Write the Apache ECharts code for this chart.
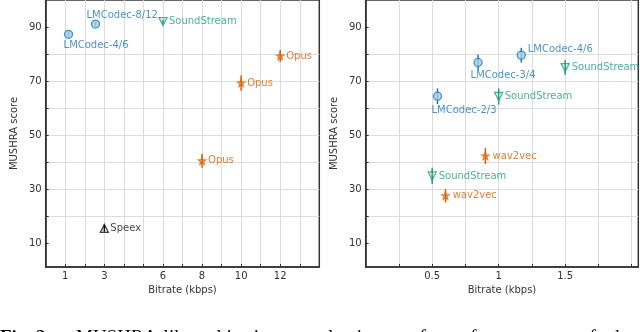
<!DOCTYPE html>
<html>
<head>
<meta charset="utf-8">
<script src="https://cdn.jsdelivr.net/npm/echarts@6/dist/echarts.min.js"></script>
<style>
html, body { margin: 0; padding: 0; background: #fff; }
#chart { width: 640px; height: 332px; }
</style>
</head>
<body>
<div id="chart"></div>
<script>
// left panel: all codecs, bitrate in kbps
const leftLabels = ['LMCodec-4/6', 'LMCodec-8/12', 'SoundStream', 'Opus', 'Opus', 'Opus', 'Speex'];
const leftCodec = ['lmcodec', 'lmcodec', 'soundstream', 'opus', 'opus', 'opus', 'speex'];
const leftBitrate = [1.17, 2.55, 6, 12, 10, 8, 3];
const leftScore = [87.3, 91.1, 92.0, 79.3, 69.3, 40.5, 15.5];
const leftErr = [1.0, 0.8, 0.8, 2.2, 2.9, 2.6, 1.3];

// right panel: low bitrate codecs
const rightLabels = ['LMCodec-2/3', 'LMCodec-3/4', 'LMCodec-4/6', 'SoundStream', 'SoundStream', 'SoundStream', 'wav2vec', 'wav2vec'];
const rightCodec = ['lmcodec', 'lmcodec', 'lmcodec', 'soundstream', 'soundstream', 'soundstream', 'wav2vec', 'wav2vec'];
const rightBitrate = [0.54, 0.845, 1.17, 1.5, 1.0, 0.5, 0.9, 0.6];
const rightScore = [64.4, 76.9, 79.6, 75.0, 64.3, 34.9, 42.3, 27.6];
const rightErr = [2.9, 2.8, 2.7, 2.7, 3.0, 3.0, 3.0, 2.5];

// tick labels
const leftXTicks = [1, 3, 6, 8, 10, 12];
const rightXTicks = [0.5, 1, 1.5];
const yTicks = [10, 30, 50, 70, 90];
const yGrid = [10, 20, 30, 40, 50, 60, 70, 80, 90];

// caption words (only the top of the line is in frame)
const captionWords = ['Fig. 2:', 'MUSHRA-like', 'subjective', 'evaluation', 'of', 'performance', 'of', 'the'];

// label placement next to each marker (dx, dy in px)
const leftLabelOffset = [[-5, 11], [-9, -9], [6, 0], [6, 0], [6, 0], [6, 0], [6, 0]];
const rightLabelOffset = [[-6, 14.5], [-7.5, 12.5], [6.5, -6], [6.5, 0.3], [6, 0.4], [6.5, 0.3], [7.2, 0], [7.2, 0]];
const captionLeft = [0, 76, 200, 302, 410, 446, 580, 610];

const FONT = 'DejaVu Sans';
const STAR = 'path://M0,-10L2.35,-3.24L9.51,-3.09L3.8,1.24L5.88,8.09L0,4L-5.88,8.09L-3.8,1.24L-9.51,-3.09L-2.35,-3.24Z';
const style = {
  lmcodec: { color: '#1f78b4', symbol: 'circle', size: 8, fill: '#a6cee3', rotate: 0 },
  soundstream: { color: '#1b9e77', symbol: 'triangle', size: 8, fill: 'rgba(0,0,0,0)', rotate: 180 },
  opus: { color: '#d95f02', symbol: STAR, size: 7, fill: 'rgba(0,0,0,0)', rotate: 0 },
  wav2vec: { color: '#d95f02', symbol: STAR, size: 7, fill: 'rgba(0,0,0,0)', rotate: 0 },
  speex: { color: '#111', symbol: 'triangle', size: 8, fill: 'rgba(0,0,0,0)', rotate: 0 }
};

function buildSeries(idx, labels, codec, xs, ys, errs, offs) {
  const out = [];
  // error bars
  out.push({
    type: 'custom',
    xAxisIndex: idx, yAxisIndex: idx,
    z: 2,
    silent: true,
    data: xs.map((x, i) => [x, ys[i] - errs[i], ys[i] + errs[i], i]),
    renderItem: function (params, api) {
      const i = api.value(3);
      const p1 = api.coord([api.value(0), api.value(1)]);
      const p2 = api.coord([api.value(0), api.value(2)]);
      return {
        type: 'line',
        shape: { x1: p1[0], y1: p1[1], x2: p2[0], y2: p2[1] },
        style: { stroke: style[codec[i]].color, lineWidth: 1.5 }
      };
    }
  });
  const groups = [...new Set(codec)];
  groups.forEach(g => {
    const s = style[g];
    const data = [];
    xs.forEach((x, i) => {
      if (codec[i] !== g) return;
      data.push({
        value: [x, ys[i]],
        name: labels[i],
        label: { offset: offs[i] }
      });
    });
    out.push({
      type: 'scatter',
      xAxisIndex: idx, yAxisIndex: idx,
      z: 3,
      symbol: s.symbol,
      symbolSize: s.size,
      symbolRotate: s.rotate,
      itemStyle: { color: s.fill, borderColor: s.color, borderWidth: 1.3 },
      label: {
        show: true,
        position: 'inside',
        align: 'left',
        verticalAlign: 'middle',
        formatter: '{b}',
        color: s.color,
        fontFamily: FONT,
        fontSize: 10
      },
      data: data
    });
  });
  return out;
}

function xAxis(idx, max, interval, ticks) {
  return {
    type: 'value', gridIndex: idx, min: 0, max: max, interval: interval,
    name: 'Bitrate (kbps)', nameLocation: 'middle', nameGap: 18,
    nameTextStyle: { fontFamily: FONT, fontSize: 10, color: '#333' },
    axisLine: { show: true, onZero: false, lineStyle: { color: '#333', width: 1.5 } },
    axisTick: { show: true, inside: true, length: 3, lineStyle: { color: '#333' } },
    axisLabel: { customValues: ticks, fontFamily: FONT, fontSize: 10, color: '#333', margin: 4 },
    splitLine: { show: true, showMinLine: false, showMaxLine: false, lineStyle: { color: '#dcdcdc', width: 1 } }
  };
}

function yAxis(idx) {
  return {
    type: 'value', gridIndex: idx, min: 1.2, max: 100,
    name: 'MUSHRA score', nameLocation: 'middle', nameGap: 26, nameRotate: 90,
    nameTextStyle: { fontFamily: FONT, fontSize: 10, color: '#333' },
    axisLine: { show: true, onZero: false, lineStyle: { color: '#333', width: 1.5 } },
    axisTick: { show: true, inside: true, length: 3, customValues: yGrid, lineStyle: { color: '#333' } },
    axisLabel: { customValues: yTicks, fontFamily: FONT, fontSize: 10, color: '#333', margin: 4 },
    splitLine: { show: true, showMinLine: false, showMaxLine: false, lineStyle: { color: '#dcdcdc', width: 1 } }
  };
}

const chart = echarts.init(document.getElementById('chart'), null, { renderer: 'canvas' });
chart.setOption({
  animation: false,
  backgroundColor: '#fff',
  grid: [
    { left: 45.7, top: -2.2, width: 273.6, height: 269.2, show: true, borderColor: '#333', borderWidth: 1.5 },
    { left: 365.7, top: -2.2, width: 272.6, height: 269.2, show: true, borderColor: '#333', borderWidth: 1.5 }
  ],
  xAxis: [xAxis(0, 14, 1, leftXTicks), xAxis(1, 2.05, 0.25, rightXTicks)],
  yAxis: [yAxis(0), yAxis(1)],
  series: buildSeries(0, leftLabels, leftCodec, leftBitrate, leftScore, leftErr, leftLabelOffset)
    .concat(buildSeries(1, rightLabels, rightCodec, rightBitrate, rightScore, rightErr, rightLabelOffset)),
  graphic: captionWords.map((w, i) => ({
    type: 'text', left: captionLeft[i], top: 329,
    style: {
      text: w, fill: '#000',
      fontFamily: 'Liberation Serif', fontSize: 19,
      fontWeight: i === 0 ? 'bold' : 'normal'
    }
  }))
});
</script>
</body>
</html>
